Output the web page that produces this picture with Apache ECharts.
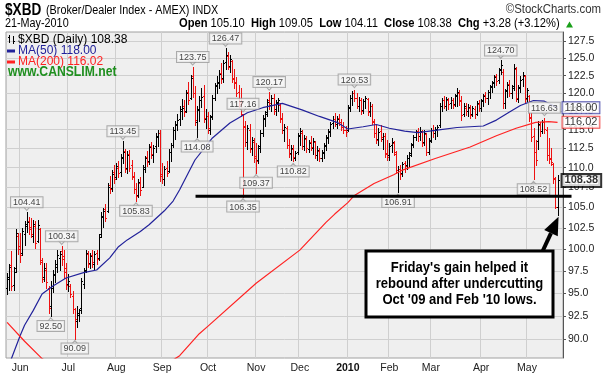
<!DOCTYPE html>
<html><head><meta charset="utf-8">
<script src="https://cdn.jsdelivr.net/npm/echarts@6/dist/echarts.min.js"></script>
<style>html,body{margin:0;padding:0;background:#fff}#c{width:606px;height:377px}</style>
</head><body><div id="c"></div>
<script>
// ---------------- data ----------------
const holidays = ['2009-05-25','2009-07-03','2009-09-07','2009-11-26','2009-12-25','2010-01-01','2010-01-18','2010-02-15','2010-04-02'];
const firstDay = '2009-05-21', lastDay = '2010-05-21';
const monthNames = ['Jan','Feb','Mar','Apr','May','Jun','Jul','Aug','Sep','Oct','Nov','Dec'];
const yTickValues = [90,92.5,95,97.5,100,102.5,105,107.5,110,112.5,115,117.5,120,122.5,125,127.5];

const opens = [95.6,96.6,98.2,95.9,97.8,101.6,100.4,99.6,101.8,103.0,103.4,102.6,101.6,102.8,101.0,102.4,98.5,96.8,97.6,95.6,93.6,95.6,97.0,98.0,99.0,99.8,99.2,97.8,
96.0,95.8,94.7,93.2,92.0,92.6,93.4,96.0,97.6,99.4,98.4,99.3,98.3,99.6,99.0,101.8,103.8,104.8,104.6,107.8,107.4,109.4,
108.8,110.0,109.5,111.2,112.2,110.0,111.8,110.3,108.8,107.3,106.6,108.0,107.6,110.1,111.4,110.9,112.8,111.6,112.8,114.0,114.5,
109.2,108.6,110.0,109.6,112.0,113.0,115.0,115.6,116.5,117.6,118.2,117.6,120.2,119.4,122.4,120.0,116.0,117.8,119.0,119.6,116.4,
116.8,115.0,116.9,119.4,121.2,121.6,122.9,122.2,124.5,125.4,123.9,124.6,122.1,121.6,120.2,118.8,117.0,115.5,113.4,115.0,112.6,113.4,
111.5,111.0,112.8,114.6,116.5,117.4,119.0,118.4,119.4,117.8,118.8,118.4,116.6,115.0,115.2,113.0,111.9,112.4,111.2,112.0,
114.3,114.6,112.8,113.8,112.5,113.4,112.6,113.3,111.6,112.2,111.3,112.0,112.9,114.0,114.8,115.9,116.5,115.8,116.6,116.0,115.4,115.0,
115.0,118.1,119.4,120.1,119.3,118.2,119.0,117.7,118.9,119.2,117.5,118.2,116.0,114.6,113.8,114.8,113.8,114.1,111.9,
111.6,112.9,113.2,111.8,109.5,109.9,109.3,110.6,110.3,111.2,111.9,113.1,114.0,114.8,114.1,114.7,113.3,114.4,112.1,
113.6,115.0,114.6,115.1,115.6,118.3,119.0,118.3,119.1,118.6,119.0,118.5,119.7,120.1,119.0,117.2,118.0,117.6,118.0,117.2,117.8,117.2,118.5,
118.0,119.0,119.7,119.3,120.2,121.0,121.6,122.4,121.9,123.4,123.0,118.6,120.4,121.3,120.0,121.0,123.5,119.2,120.9,122.0,122.4,
119.3,119.6,116.7,114.2,112.0,113.5,115.7,114.8,116.1,115.0,111.6,111.2,110.5,108.6,105.10];
const highs = [97.3,98.3,99.8,97.9,102.4,101.9,101.9,102.5,103.3,104.41,103.9,103.7,103.5,103.4,103.5,102.5,99.0,98.4,98.4,95.8,96.4,97.6,98.7,99.9,99.8,100.34,99.9,98.4,
97.2,96.0,95.2,93.4,93.6,93.3,96.7,97.8,99.9,99.8,99.6,99.9,99.8,99.9,101.8,104.5,105.0,105.4,108.0,109.0,109.7,110.4,
110.6,110.9,111.8,113.45,112.5,112.2,112.3,111.0,109.4,108.0,108.5,108.8,110.3,111.5,112.2,113.1,113.4,113.0,114.5,115.0,114.9,
110.6,110.2,110.9,112.5,113.2,115.3,116.2,117.1,118.2,119.2,119.0,120.4,121.6,122.6,123.75,121.0,118.2,119.6,120.8,121.2,117.8,
117.4,117.0,119.8,121.5,122.4,123.3,124.3,124.7,126.47,125.9,125.5,124.8,123.5,122.3,121.2,120.8,117.16,116.2,115.6,115.8,114.0,113.9,
113.2,113.0,115.0,117.0,117.6,119.2,120.17,119.8,119.9,119.0,119.4,118.6,117.3,115.8,115.5,113.8,113.0,112.9,112.2,114.6,
115.2,115.0,114.3,114.2,113.6,114.2,113.9,113.5,112.8,112.6,112.3,113.2,114.3,115.1,116.1,116.8,117.3,116.9,117.2,116.4,116.0,115.5,
118.4,119.8,120.3,120.53,120.0,119.5,119.4,119.2,119.6,119.3,118.8,118.5,116.5,115.8,115.2,115.6,114.6,114.5,113.6,
113.2,113.9,113.5,112.2,110.2,110.4,110.8,110.9,111.6,112.0,113.2,114.3,115.0,115.2,115.4,115.0,114.9,114.6,113.9,
115.2,115.6,115.3,115.7,118.6,119.4,119.6,119.5,119.4,119.5,119.4,119.9,120.8,120.4,119.6,118.6,118.6,118.5,118.4,118.3,118.2,118.9,119.0,
119.2,119.9,120.2,120.5,121.2,121.8,122.6,122.8,123.6,124.70,123.4,120.6,121.6,121.9,121.2,124.2,123.8,121.2,122.4,123.0,122.6,
120.8,119.8,117.3,115.2,113.6,116.2,116.0,116.3,116.63,115.4,113.9,112.6,110.6,108.8,109.05];
const lows = [94.9,95.4,95.3,95.3,97.4,99.4,98.5,99.3,100.5,102.0,101.8,101.4,100.9,100.2,100.8,98.3,96.2,96.4,95.6,92.8,92.5,95.1,96.2,97.4,97.6,98.2,96.7,95.5,
95.2,94.6,92.8,90.09,91.3,92.0,92.8,95.6,97.4,97.9,97.8,98.0,97.7,98.3,98.8,101.5,102.6,103.3,104.5,106.8,107.0,108.0,
108.6,108.8,108.9,110.6,109.4,109.3,109.6,108.6,106.8,105.83,106.3,106.6,107.5,109.4,110.2,110.5,111.3,110.7,112.1,112.8,108.3,
108.0,107.8,108.9,109.5,110.9,112.7,113.8,114.9,115.6,116.5,116.8,117.4,118.5,119.2,119.5,115.6,114.08,116.2,118.1,116.0,115.2,
114.5,114.4,116.5,119.0,120.0,120.8,121.5,121.6,123.5,123.4,123.0,121.6,120.8,119.6,118.0,116.8,106.35,112.8,112.4,112.0,111.6,110.8,
109.37,110.6,112.0,114.2,115.5,116.8,117.8,117.6,117.2,117.0,117.6,116.0,114.6,113.5,112.6,111.4,111.0,110.82,111.0,111.8,
113.0,112.4,112.3,112.1,112.0,112.3,111.8,111.3,111.0,110.9,110.9,111.2,112.3,113.2,114.2,115.2,115.5,115.2,115.7,114.9,114.5,114.2,
114.8,117.6,118.4,118.9,117.9,117.5,117.2,117.3,117.9,117.0,116.8,115.8,114.0,113.2,113.0,113.5,112.4,111.4,111.0,
111.0,112.0,111.6,109.3,106.91,108.6,108.9,109.5,109.9,110.2,111.5,112.7,113.6,113.5,113.6,112.8,112.9,111.6,111.8,
113.4,114.0,113.8,114.2,115.3,117.6,117.9,117.7,117.8,118.0,117.9,118.2,118.3,118.4,116.3,116.8,117.0,116.9,116.6,116.8,116.6,117.0,117.5,
117.5,118.2,118.8,118.5,119.4,120.2,120.9,121.2,121.5,122.8,118.0,118.0,119.5,119.6,119.4,120.5,118.9,118.8,120.2,121.0,118.7,
118.9,116.2,113.5,108.52,110.3,112.4,114.2,114.5,114.6,111.0,110.6,110.4,108.1,104.9,104.11];
const closes = [96.8,97.9,95.8,97.4,101.9,100.0,99.3,102.1,102.8,103.2,102.4,101.8,103.0,100.7,102.9,98.8,96.6,97.8,96.2,93.4,95.8,97.2,98.3,99.3,99.5,98.9,97.4,95.9,
96.4,94.9,93.3,92.2,92.8,93.1,96.3,97.5,99.6,98.3,99.2,98.5,99.5,98.9,101.5,104.0,104.6,103.7,107.6,107.3,109.2,108.6,
110.2,109.3,111.4,112.0,109.8,111.6,110.0,109.0,107.3,106.4,108.2,107.2,109.9,111.2,110.8,112.7,111.8,112.6,114.2,114.6,109.0,
108.5,109.8,109.3,112.1,112.9,114.9,115.8,116.3,117.8,118.0,117.4,120.0,119.0,122.2,120.1,116.3,117.7,119.1,119.5,116.6,116.9,
115.2,116.7,119.4,121.0,121.4,122.8,122.0,124.3,125.5,123.8,124.9,122.0,121.5,120.0,118.5,117.2,115.4,113.3,115.2,112.5,113.6,111.3,
110.9,112.6,114.5,116.6,117.2,118.8,118.6,119.3,117.6,118.6,119.0,116.4,115.0,115.3,113.0,111.8,112.6,111.4,111.9,114.2,
114.8,112.8,113.9,112.6,113.2,112.7,113.5,111.7,112.3,111.2,111.9,112.8,113.9,114.7,115.8,116.4,115.8,116.5,116.0,115.4,114.9,114.7,
118.0,119.4,120.0,119.4,118.3,119.1,117.6,118.9,119.3,117.4,118.3,116.2,114.5,113.6,114.7,114.0,114.2,111.8,111.4,
112.8,113.4,112.0,109.7,109.8,109.2,110.5,110.2,111.3,111.7,113.0,114.0,114.7,114.2,114.8,113.2,114.5,112.0,113.5,
114.9,114.5,115.0,115.4,118.2,119.0,118.3,119.2,118.5,119.1,118.4,119.6,120.2,118.9,117.0,118.2,117.5,118.1,117.0,117.9,117.1,118.6,117.9,
118.9,119.6,119.3,120.2,120.9,121.5,122.3,121.8,123.3,124.1,118.6,120.3,121.2,120.0,120.8,123.6,119.3,120.8,121.9,122.6,119.2,
120.4,116.6,114.0,112.0,111.0,115.8,114.8,116.0,115.1,111.6,111.1,110.8,108.7,105.10,108.38];

// moving averages: [bar index, value]
const ma50Pts = [[0,87.0],[2,88.0],[6,90.4],[8,91.5],[12,93.1],[16,94.9],[21,95.8],[27,96.7],[35,97.3],[41,97.6],[47,99.0],[51,100.3],[55,101.1],[61,102.1],[65,102.9],[72,104.6],[76,105.8],[79,107.2],[86,111.0],[94,113.9],[102,115.9],[110,117.3],[117,118.0],[126,118.6],[135,117.7],[143,116.8],[151,116.0],[156,115.1],[163,115.4],[169,115.7],[175,115.2],[182,114.8],[188,114.6],[196,114.9],[206,115.3],[218,115.5],[224,116.3],[230,117.4],[235,118.3],[241,119.0],[246,118.9],[252,118.0]];
const ma200Pts = [[0,91.8],[8,89.8],[16,88.0],[20,87.4],[74,87.6],[77,88.0],[79,88.3],[88,90.6],[92,91.4],[114,96.1],[134,99.9],[146,103.2],[150,104.2],[156,105.6],[159,106.5],[168,108.0],[177,109.1],[181,109.7],[196,111.2],[212,112.7],[224,114.2],[233,115.2],[242,116.0],[248,116.1],[252,116.0]];

// price call-outs: [bar index, value]
const highCallouts = [[9,104.41],[25,100.34],[53,113.45],[85,123.75],[100,126.47],[108,117.16],[120,120.17],[159,120.53],[226,124.70],[246,116.63]];
const lowCallouts = [[20,92.50],[31,90.09],[59,105.83],[87,114.08],[108,106.35],[114,109.37],[131,110.82],[179,106.91],[241,108.52]];
const supportLevel = 106.4;
const lastValues = {ma50: 118.00, ma200: 116.02, close: 108.38};

// ---------------- build ----------------
const L = v => Math.log10(v);
const dates = [];
(function(){
  const d = new Date(firstDay + 'T00:00:00Z'), end = new Date(lastDay + 'T00:00:00Z').getTime();
  while (d.getTime() <= end) {
    const s = d.toISOString().slice(0,10), wd = d.getUTCDay();
    if (wd !== 0 && wd !== 6 && holidays.indexOf(s) < 0) dates.push(s);
    d.setUTCDate(d.getUTCDate() + 1);
  }
})();
const N = dates.length;
const cats = dates.concat(['x1','x2']);
const monthStart = {};
for (let i = 1; i < N; i++) {
  if (dates[i].slice(5,7) !== dates[i-1].slice(5,7)) {
    const m = +dates[i].slice(5,7);
    monthStart[i] = m === 1 ? '{y|' + dates[i].slice(0,4) + '}' : monthNames[m-1];
  }
}
const isMonth = (idx) => Object.prototype.hasOwnProperty.call(monthStart, idx);

const ohlc = dates.map((d,i) => [i, L(opens[i]), L(highs[i]), L(lows[i]), L(closes[i]),
  (i === 0 ? closes[0] >= opens[0] : closes[i] >= closes[i-1]) ? 1 : 0]);

const FONT = '"Liberation Sans", Arial, sans-serif';
const yMin = L(88.06), yMax = L(128.92);

function renderOHLC(params, api) {
  const i = api.value(0);
  const pO = api.coord([i, api.value(1)]);
  const pH = api.coord([i, api.value(2)]);
  const pL = api.coord([i, api.value(3)]);
  const pC = api.coord([i, api.value(4)]);
  const col = api.value(5) ? '#000000' : '#ee1111';
  const x = Math.round(pH[0]) + 0.5;
  const yO = Math.round(pO[1]) + 0.5, yC = Math.round(pC[1]) + 0.5;
  return { type: 'group', children: [
    { type:'line', shape:{x1:x, y1:Math.round(pH[1]), x2:x, y2:Math.round(pL[1]) + 1}, style:{stroke:col, lineWidth:1} },
    { type:'line', shape:{x1:x-1.5, y1:yO, x2:x, y2:yO}, style:{stroke:col, lineWidth:1} },
    { type:'line', shape:{x1:x, y1:yC, x2:x+1.5, y2:yC}, style:{stroke:col, lineWidth:1} }
  ]};
}

const calloutLabel = {
  show: true, fontSize: 9, fontFamily: FONT, color: '#111',
  backgroundColor: '#f8f8f8', borderColor: '#9a9a9a', borderWidth: 1,
  padding: [1, 2, 0, 2], lineHeight: 9, distance: 5
};
const calloutData = highCallouts.map(c => ({ value:[c[0], L(c[1])], label:{ position:'top', formatter: c[1].toFixed(2) } }))
  .concat(lowCallouts.map(c => ({ value:[c[0], L(c[1])], label:{ position:'bottom', formatter: c[1].toFixed(2) } })));
const pointerData = highCallouts.map(c => ({ value:[c[0], L(c[1])], symbolRotate: 180, symbolOffset:[0,-4] }))
  .concat(lowCallouts.map(c => ({ value:[c[0], L(c[1])], symbolRotate: 0, symbolOffset:[0,4] })));

const lastIdx = N - 1;
const endBoxes = [
  { value:[lastIdx, L(lastValues.ma50)], label:{ formatter: lastValues.ma50.toFixed(2), borderColor:'#2a2a9a' } },
  { value:[lastIdx, L(lastValues.ma200)], label:{ formatter: lastValues.ma200.toFixed(2), borderColor:'#ee2222' } },
  { value:[lastIdx, L(lastValues.close)], label:{ formatter: lastValues.close.toFixed(2), borderColor:'#000', borderWidth:2, fontWeight:'bold' } }
];

const option = {
  animation: false,
  backgroundColor: '#ffffff',
  grid: { left: 6, right: 43, top: 32, bottom: 19, show: true, backgroundColor: '#efefef', borderColor: '#a0a0a0', borderWidth: 1, containLabel: false, outerBoundsMode: 'none' },
  xAxis: {
    type: 'category', data: cats, boundaryGap: true,
    axisLine: { show: false }, axisTick: { show: false },
    axisLabel: { interval: (idx) => isMonth(idx), formatter: (v, idx) => monthStart[idx] || '', fontSize: 10.5, fontFamily: FONT, color: '#222', margin: 5,
      rich: { y: { fontSize: 10.5, fontWeight: 'bold', fontFamily: FONT, color: '#111' } } },
    splitLine: { show: true, interval: (idx) => isMonth(idx), lineStyle: { color: '#cfcfcf', width: 1 } }
  },
  yAxis: {
    type: 'value', position: 'right', min: yMin, max: yMax, scale: true,
    axisLine: { show: true, lineStyle: { color: '#555' } },
    axisTick: { show: true, length: 3, lineStyle: { color: '#555' }, customValues: yTickValues.map(L) },
    axisLabel: { customValues: yTickValues.map(L), formatter: v => (Math.pow(10, v)).toFixed(1), fontSize: 10.5, fontFamily: FONT, color: '#222', margin: 5 },
    splitLine: { show: true, lineStyle: { color: '#cfcfcf', width: 1 } }
  },
  series: [
    { type: 'custom', name: 'XBD', renderItem: renderOHLC, data: ohlc, encode: { x: 0, y: [1,2,3,4] }, z: 3, clip: true },
    { type: 'line', name: 'MA(50)', data: ma50Pts.map(p => [p[0], L(p[1])]), showSymbol: false, symbol: 'none', lineStyle: { color: '#22229a', width: 1.2 }, z: 4, clip: true },
    { type: 'line', name: 'MA(200)', data: ma200Pts.map(p => [p[0], L(p[1])]), showSymbol: false, symbol: 'none', lineStyle: { color: '#ff2222', width: 1.2 }, z: 4, clip: true },
    { type: 'scatter', name: 'pointers', data: pointerData, symbol: 'triangle', symbolSize: [7, 4], itemStyle: { color: '#f8f8f8', borderColor: '#9a9a9a', borderWidth: 1 }, z: 5, silent: true },
    { type: 'scatter', name: 'callouts', data: calloutData, symbolSize: 0, label: calloutLabel, z: 6, silent: true },
    { type: 'scatter', name: 'ends', data: endBoxes, symbolSize: 0, z: 7, silent: true,
      label: { show: true, position: 'right', distance: 5, fontSize: 11, fontFamily: FONT, color: '#000', backgroundColor: '#fff', borderWidth: 1, padding: [1, 2, 0, 2], lineHeight: 10 } }
  ],
  graphic: [
    { type:'text', x:5, y:11, scaleX:0.85, style:{ text:'$XBD', font:'bold 16px ' + FONT, fill:'#000', verticalAlign:'middle' } },
    { type:'text', x:46, y:11, scaleX:0.9, style:{ text:'(Broker/Dealer Index - AMEX) INDX', font:'12px ' + FONT, fill:'#000', verticalAlign:'middle' } },
    { type:'text', x:601, y:10, scaleX:0.95, style:{ text:'\u00a9StockCharts.com', font:'12px ' + FONT, fill:'#333', align:'right', verticalAlign:'middle' } },
    { type:'text', x:5, y:24, scaleX:0.9, style:{ text:'21-May-2010', font:'12px ' + FONT, fill:'#000', verticalAlign:'middle' } },
    { type:'text', x:179, y:24, scaleX:0.93, style:{ text:'{b|Open} 105.10  {b|High} 109.05  {b|Low} 104.11  {b|Close} 108.38  {b|Chg} +3.28 (+3.12%)', font:'12px ' + FONT, fill:'#000', verticalAlign:'middle',
      rich:{ b:{ fontWeight:'bold', fontSize:12, fontFamily: FONT } } } },
    { type:'polygon', shape:{ points:[[566,27.5],[573,27.5],[569.5,21.5]] }, style:{ fill:'#1aa01a' } },
    // in-plot legend
    { type:'line', shape:{x1:9.5,y1:35,x2:9.5,y2:43}, style:{stroke:'#000', lineWidth:1} },
    { type:'line', shape:{x1:8,y1:37.5,x2:9.5,y2:37.5}, style:{stroke:'#000', lineWidth:1} },
    { type:'line', shape:{x1:13.5,y1:36,x2:13.5,y2:44}, style:{stroke:'#000', lineWidth:1} },
    { type:'line', shape:{x1:13.5,y1:41.5,x2:15,y2:41.5}, style:{stroke:'#000', lineWidth:1} },
    { type:'text', x:18, y:39.5, style:{ text:'$XBD (Daily) 108.38', font:'12px ' + FONT, fill:'#000', verticalAlign:'middle' } },
    { type:'line', shape:{x1:7,y1:51,x2:15,y2:51}, style:{stroke:'#22229a', lineWidth:3} },
    { type:'text', x:18, y:51, style:{ text:'MA(50) 118.00', font:'12px ' + FONT, fill:'#22229a', verticalAlign:'middle' } },
    { type:'line', shape:{x1:7,y1:62,x2:15,y2:62}, style:{stroke:'#ff2222', lineWidth:3} },
    { type:'text', x:18, y:62, style:{ text:'MA(200) 116.02', font:'12px ' + FONT, fill:'#ff2222', verticalAlign:'middle' } },
    { type:'text', x:8, y:72.5, scaleX:0.87, style:{ text:'www.CANSLIM.net', font:'bold 14px ' + FONT, fill:'#1f8f1f', verticalAlign:'middle' } },
    // comment box
    { type:'rect', shape:{ x:366, y:251, width:187, height:66 }, style:{ fill:'#fff', stroke:'#000', lineWidth:3 }, z: 50 },
    { type:'text', x:459.5, y:284, scaleX:0.87, z: 51, style:{ text:"Friday's gain helped it\nrebound after undercutting\nOct '09 and Feb '10 lows.", font:'bold 15px ' + FONT, fill:'#000', align:'center', verticalAlign:'middle', lineHeight:16 } }
  ]
};

const chart = echarts.init(document.getElementById('c'), null, { renderer: 'canvas', width: 606, height: 377 });
chart.setOption(option);

// support line and arrow positioned through the chart's own scales
const px = (i, v) => chart.convertToPixel({ gridIndex: 0 }, [i, L(v)]);
const band = px(N + 1, 100)[0] - px(N, 100)[0];
const sStart = px(87, supportLevel), sEnd = px(lastIdx, supportLevel);
const tip = px(lastIdx, lows[lastIdx]);
const tipX = tip[0] + 1, tipY = tip[1] + 2;
const startX = 542.7, startY = 251;
const dx = tipX - startX, dy = tipY - startY, len = Math.hypot(dx, dy);
const ux = dx / len, uy = dy / len, headLen = 18, headW = 7.5;
const bx = tipX - ux * headLen, by = tipY - uy * headLen;
chart.setOption({ graphic: option.graphic.concat([
  { type:'line', shape:{ x1: sStart[0] - band / 2 - 0.5, y1: sStart[1], x2: sEnd[0] + band * 6.4, y2: sStart[1] }, style:{ stroke:'#000', lineWidth:3 }, z: 40 },
  { type:'line', shape:{ x1: startX, y1: startY, x2: bx, y2: by }, style:{ stroke:'#000', lineWidth:4 }, z: 52 },
  { type:'polygon', shape:{ points:[[tipX, tipY], [bx - uy * headW, by + ux * headW], [bx + uy * headW, by - ux * headW]] }, style:{ fill:'#000' }, z: 52 }
]) }, { replaceMerge: ['graphic'] });
</script>
</body></html>
